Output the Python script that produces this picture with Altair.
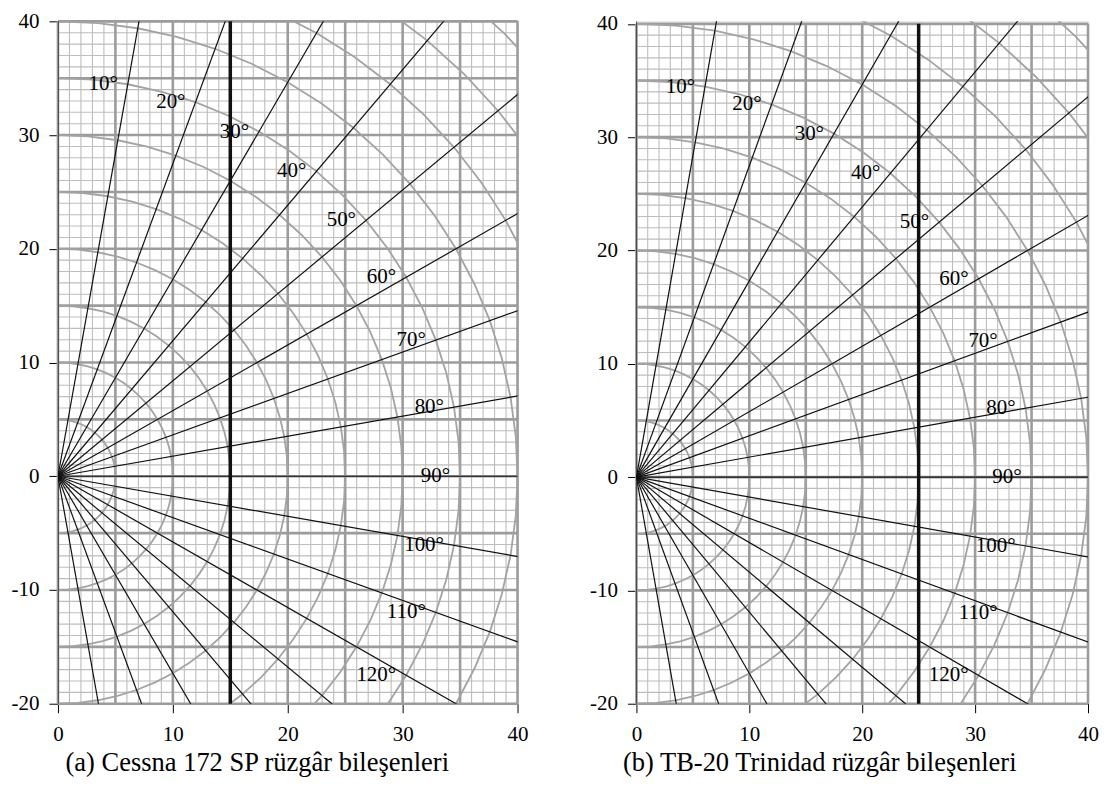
import math
import altair as alt
import pandas as pd

# ---------------- data ----------------
X_DOMAIN = [0, 40]
Y_DOMAIN = [-20, 40]
X_TICKS = [0, 10, 20, 30, 40]
Y_TICKS = [-20, -10, 0, 10, 20, 30, 40]
MINOR_X = list(range(0, 41))
MINOR_Y = list(range(-20, 41))
MAJOR_X = [0, 5, 10, 15, 20, 25, 30, 35, 40]
MAJOR_Y = [-20, -15, -10, -5, 0, 5, 10, 15, 20, 25, 30, 35, 40]
RADIAL_ANGLES = [0, 10, 20, 30, 40, 50, 60, 70, 80, 90, 100, 110, 120, 130, 140, 150, 160, 170, 180]
LABEL_ANGLES = [10, 20, 30, 40, 50, 60, 70, 80, 90, 100, 110, 120]
LABEL_RADIUS = 35
ARC_RADII = [5, 10, 15, 20, 25, 30, 35, 40, 45, 50, 55]
ARC_STEP_DEG = 5
CAPTIONS = ["(a) Cessna 172 SP rüzgâr bileşenleri", "(b) TB-20 Trinidad rüzgâr bileşenleri"]
LIMIT_X = [15, 25]

FONT = "Liberation Serif"
PANEL_W = [460, 452]
PANEL_H = 683
Y_RANGE_TOP = [0, 2.5]
TITLE_X = [199, 183]


def radial_df():
    rows = []
    for a in RADIAL_ANGLES:
        t = math.radians(a)
        rows.append({"angle": a, "x": 0.0, "y": 0.0, "x2": 100 * math.sin(t), "y2": 100 * math.cos(t)})
    return pd.DataFrame(rows)


def arc_df():
    rows = []
    for r in ARC_RADII:
        for i, a in enumerate(range(0, 181, ARC_STEP_DEG)):
            t = math.radians(a)
            rows.append({"r": r, "i": i, "x": r * math.sin(t), "y": r * math.cos(t)})
    return pd.DataFrame(rows)


def label_df():
    rows = []
    for a in LABEL_ANGLES:
        t = math.radians(a)
        rows.append({"label": f"{a}°", "x": LABEL_RADIUS * math.sin(t), "y": LABEL_RADIUS * math.cos(t)})
    return pd.DataFrame(rows)


def panel(idx):
    w = PANEL_W[idx]
    xs = alt.Scale(domain=X_DOMAIN, nice=False, zero=False)
    ys = alt.Scale(domain=Y_DOMAIN, nice=False, zero=False, range=[PANEL_H, Y_RANGE_TOP[idx]])
    x_axis = alt.Axis(values=X_TICKS, grid=False, domain=False, ticks=True, tickColor="black",
                      tickSize=9, tickWidth=1, labelFont=FONT, labelFontSize=21, labelColor="black",
                      labelPadding=11, labelFlush=False, labelOverlap=False, labelExpr="datum.value",
                      title=CAPTIONS[idx], titleFont=FONT, titleFontSize=26.5, titleFontWeight="normal",
                      titleColor="black", titlePadding=5, titleX=TITLE_X[idx])
    y_axis = alt.Axis(values=Y_TICKS, grid=False, domain=False, ticks=True, tickColor="black",
                      tickSize=9, tickWidth=1, labelFont=FONT, labelFontSize=21, labelColor="black",
                      labelPadding=10, labelFlush=False, labelOverlap=False, labelExpr="datum.value",
                      title=None)

    def X(f):
        return alt.X(f, scale=xs, axis=x_axis)

    def Y(f):
        return alt.Y(f, scale=ys, axis=y_axis)

    y_lo = alt.YDatum(Y_DOMAIN[0], scale=ys, axis=y_axis)
    y_hi = alt.Y2Datum(Y_DOMAIN[1])

    minor_x = alt.Chart(pd.DataFrame({"v": MINOR_X})).mark_rule(color="#bdbdbd", strokeWidth=1.1).encode(
        x=X("v:Q"), y=y_lo, y2=y_hi)
    minor_y = alt.Chart(pd.DataFrame({"v": MINOR_Y})).mark_rule(color="#bdbdbd", strokeWidth=1.1).encode(
        y=Y("v:Q"))
    major_x = alt.Chart(pd.DataFrame({"v": MAJOR_X})).mark_rule(color="#9c9c9c", strokeWidth=2.6).encode(
        x=X("v:Q"), y=y_lo, y2=y_hi)
    major_y = alt.Chart(pd.DataFrame({"v": MAJOR_Y})).mark_rule(color="#9c9c9c", strokeWidth=2.6).encode(
        y=Y("v:Q"))
    arcs = alt.Chart(arc_df()).mark_line(color="#a3a3a3", strokeWidth=1.8, clip=True).encode(
        x=X("x:Q"), y=Y("y:Q"), detail="r:N", order="i:Q")
    radials = alt.Chart(radial_df()).mark_rule(color="#111111", strokeWidth=1.2, clip=True).encode(
        x=X("x:Q"), y=Y("y:Q"), x2="x2:Q", y2="y2:Q")
    limit = alt.Chart(pd.DataFrame({"v": [LIMIT_X[idx]]})).mark_rule(color="#111111", strokeWidth=3.5).encode(
        x=X("v:Q"), y=y_lo, y2=y_hi)
    labels = alt.Chart(label_df()).mark_text(font=FONT, fontSize=21, color="black", align="right",
                                              baseline="middle", dx=-10).encode(
        x=X("x:Q"), y=Y("y:Q"), text="label:N")
    return alt.layer(minor_x, minor_y, major_x, major_y, arcs, radials, limit, labels).properties(
        width=w, height=PANEL_H)


chart = alt.hconcat(panel(0), panel(1), spacing=60).properties(
    padding={"left": 2, "top": 1, "right": 0, "bottom": 0}
).configure_view(stroke=None).configure(background="white")

chart.save("out.html", embed_options={"renderer": "svg", "actions": False})
